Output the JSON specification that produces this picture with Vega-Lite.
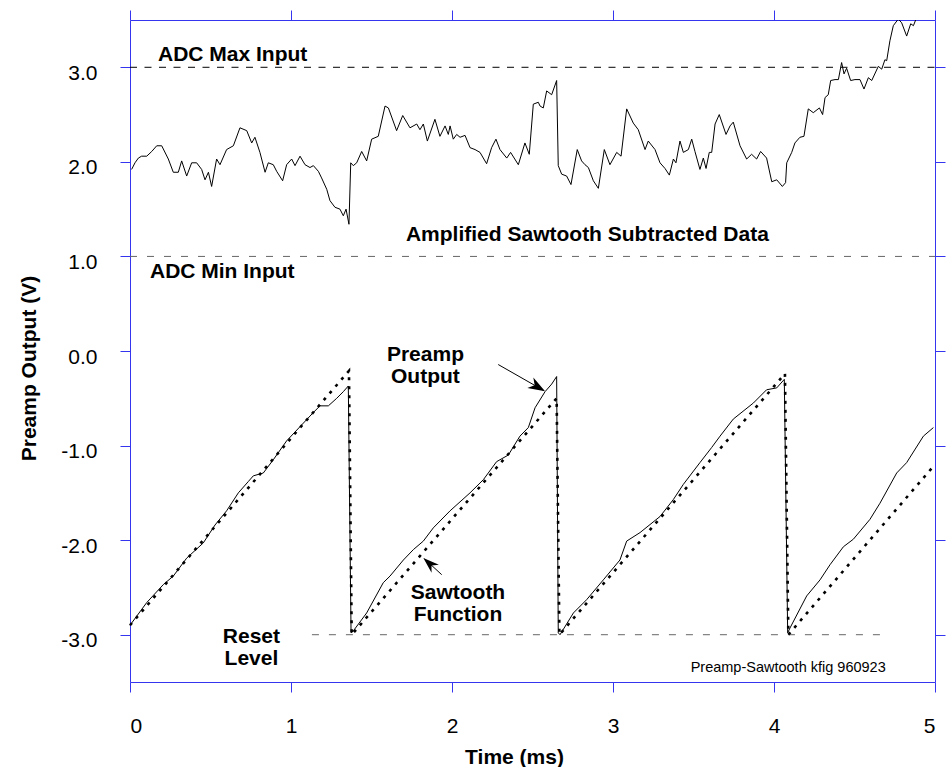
{
  "$schema": "https://vega.github.io/schema/vega-lite/v6.json",
  "width": 805,
  "height": 662,
  "autosize": {"type": "none"},
  "padding": {"left": 130, "top": 20, "right": 11, "bottom": 85},
  "background": "white",
  "config": {
    "view": {"stroke": null},
    "axis": {
      "grid": false,
      "domainColor": "#3535f0",
      "tickColor": "#3535f0",
      "domainWidth": 1,
      "tickWidth": 1,
      "tickSize": 10,
      "labelFont": "Liberation Sans",
      "labelFontSize": 21,
      "labelColor": "#000000",
      "titleFont": "Liberation Sans",
      "titleFontSize": 21,
      "titleFontWeight": "bold",
      "titleColor": "#000000"
    }
  },
  "datasets": {
    "upper": [
      {"t":0.010,"v":1.92},{"t":0.031,"v":1.99},{"t":0.052,"v":2.04},{"t":0.072,"v":2.06},{"t":0.104,"v":2.06},
      {"t":0.135,"v":2.11},{"t":0.166,"v":2.17},{"t":0.197,"v":2.17},{"t":0.238,"v":2.03},{"t":0.269,"v":1.89},
      {"t":0.300,"v":1.89},{"t":0.321,"v":2.01},{"t":0.352,"v":1.85},{"t":0.383,"v":1.99},{"t":0.414,"v":1.99},
      {"t":0.445,"v":1.92},{"t":0.466,"v":1.81},{"t":0.487,"v":1.89},{"t":0.507,"v":1.74},{"t":0.538,"v":2.03},
      {"t":0.559,"v":1.97},{"t":0.600,"v":2.13},{"t":0.642,"v":2.17},{"t":0.683,"v":2.36},{"t":0.725,"v":2.33},
      {"t":0.756,"v":2.20},{"t":0.776,"v":2.26},{"t":0.807,"v":2.10},{"t":0.839,"v":1.89},{"t":0.859,"v":1.99},
      {"t":0.890,"v":1.97},{"t":0.911,"v":1.90},{"t":0.948,"v":1.80},{"t":0.973,"v":1.97},{"t":1.004,"v":2.03},
      {"t":1.025,"v":1.96},{"t":1.056,"v":2.06},{"t":1.087,"v":1.97},{"t":1.118,"v":1.94},{"t":1.139,"v":1.96},
      {"t":1.170,"v":1.90},{"t":1.190,"v":1.83},{"t":1.222,"v":1.71},{"t":1.242,"v":1.59},{"t":1.273,"v":1.52},
      {"t":1.304,"v":1.50},{"t":1.325,"v":1.43},{"t":1.342,"v":1.50},{"t":1.360,"v":1.34},{"t":1.371,"v":1.99},
      {"t":1.387,"v":1.96},{"t":1.408,"v":1.99},{"t":1.439,"v":2.11},{"t":1.470,"v":2.01},{"t":1.501,"v":2.24},
      {"t":1.542,"v":2.27},{"t":1.584,"v":2.59},{"t":1.605,"v":2.57},{"t":1.656,"v":2.33},{"t":1.694,"v":2.49},
      {"t":1.739,"v":2.36},{"t":1.781,"v":2.40},{"t":1.801,"v":2.34},{"t":1.822,"v":2.40},{"t":1.847,"v":2.22},
      {"t":1.894,"v":2.45},{"t":1.925,"v":2.27},{"t":1.957,"v":2.38},{"t":1.977,"v":2.29},{"t":1.988,"v":2.38},
      {"t":2.008,"v":2.24},{"t":2.029,"v":2.29},{"t":2.050,"v":2.26},{"t":2.081,"v":2.28},{"t":2.112,"v":2.15},
      {"t":2.143,"v":2.13},{"t":2.174,"v":2.10},{"t":2.215,"v":1.98},{"t":2.246,"v":2.15},{"t":2.273,"v":2.24},
      {"t":2.298,"v":2.13},{"t":2.340,"v":2.04},{"t":2.364,"v":2.10},{"t":2.412,"v":1.97},{"t":2.453,"v":2.20},
      {"t":2.480,"v":2.08},{"t":2.505,"v":2.61},{"t":2.536,"v":2.63},{"t":2.547,"v":2.59},{"t":2.567,"v":2.57},
      {"t":2.588,"v":2.75},{"t":2.619,"v":2.71},{"t":2.650,"v":2.86},{"t":2.660,"v":1.96},{"t":2.681,"v":1.87},
      {"t":2.712,"v":1.85},{"t":2.739,"v":1.76},{"t":2.778,"v":2.13},{"t":2.805,"v":2.01},{"t":2.826,"v":1.97},
      {"t":2.847,"v":1.94},{"t":2.878,"v":1.80},{"t":2.909,"v":1.72},{"t":2.946,"v":2.13},{"t":2.981,"v":1.97},
      {"t":3.023,"v":2.10},{"t":3.050,"v":2.06},{"t":3.085,"v":2.56},{"t":3.126,"v":2.41},{"t":3.157,"v":2.34},
      {"t":3.199,"v":2.13},{"t":3.219,"v":2.22},{"t":3.261,"v":2.13},{"t":3.292,"v":1.99},{"t":3.323,"v":1.93},
      {"t":3.350,"v":1.86},{"t":3.375,"v":2.03},{"t":3.391,"v":1.99},{"t":3.416,"v":2.22},{"t":3.437,"v":2.10},
      {"t":3.468,"v":2.13},{"t":3.489,"v":2.24},{"t":3.509,"v":2.11},{"t":3.540,"v":1.92},{"t":3.561,"v":2.04},
      {"t":3.578,"v":1.93},{"t":3.598,"v":2.10},{"t":3.613,"v":2.10},{"t":3.634,"v":2.40},{"t":3.660,"v":2.50},
      {"t":3.702,"v":2.29},{"t":3.727,"v":2.38},{"t":3.747,"v":2.42},{"t":3.789,"v":2.17},{"t":3.830,"v":2.03},
      {"t":3.861,"v":2.08},{"t":3.892,"v":2.03},{"t":3.917,"v":2.11},{"t":3.954,"v":2.04},{"t":3.986,"v":1.79},
      {"t":4.017,"v":1.81},{"t":4.052,"v":1.74},{"t":4.072,"v":1.78},{"t":4.079,"v":1.99},{"t":4.110,"v":2.10},
      {"t":4.130,"v":2.20},{"t":4.161,"v":2.26},{"t":4.186,"v":2.27},{"t":4.213,"v":2.56},{"t":4.244,"v":2.52},
      {"t":4.282,"v":2.57},{"t":4.302,"v":2.50},{"t":4.317,"v":2.68},{"t":4.337,"v":2.71},{"t":4.352,"v":2.86},
      {"t":4.379,"v":2.87},{"t":4.400,"v":2.87},{"t":4.420,"v":3.05},{"t":4.435,"v":2.93},{"t":4.451,"v":2.99},
      {"t":4.476,"v":2.86},{"t":4.503,"v":2.87},{"t":4.534,"v":2.87},{"t":4.559,"v":2.77},{"t":4.586,"v":2.89},
      {"t":4.607,"v":2.86},{"t":4.648,"v":3.01},{"t":4.669,"v":2.98},{"t":4.689,"v":3.08},{"t":4.700,"v":3.07},
      {"t":4.720,"v":3.28},{"t":4.741,"v":3.44},{"t":4.772,"v":3.51},{"t":4.793,"v":3.47},{"t":4.824,"v":3.33},
      {"t":4.849,"v":3.46},{"t":4.866,"v":3.44},{"t":4.882,"v":3.51}
    ],
    "preamp": [
      {"t":0.000,"v":-2.90},{"t":0.104,"v":-2.66},{"t":0.207,"v":-2.47},{"t":0.269,"v":-2.38},{"t":0.352,"v":-2.19},
      {"t":0.455,"v":-2.03},{"t":0.528,"v":-1.84},{"t":0.600,"v":-1.69},{"t":0.673,"v":-1.50},{"t":0.735,"v":-1.38},
      {"t":0.766,"v":-1.32},{"t":0.828,"v":-1.29},{"t":0.890,"v":-1.15},{"t":0.973,"v":-0.95},{"t":1.056,"v":-0.80},
      {"t":1.139,"v":-0.65},{"t":1.180,"v":-0.58},{"t":1.232,"v":-0.58},{"t":1.284,"v":-0.50},{"t":1.325,"v":-0.43},
      {"t":1.356,"v":-0.37},{"t":1.373,"v":-2.98},{"t":1.387,"v":-2.96},{"t":1.470,"v":-2.77},{"t":1.573,"v":-2.45},
      {"t":1.615,"v":-2.38},{"t":1.698,"v":-2.21},{"t":1.760,"v":-2.10},{"t":1.822,"v":-2.01},{"t":1.884,"v":-1.87},
      {"t":1.988,"v":-1.69},{"t":2.112,"v":-1.50},{"t":2.195,"v":-1.36},{"t":2.277,"v":-1.17},{"t":2.350,"v":-1.10},
      {"t":2.422,"v":-0.90},{"t":2.474,"v":-0.81},{"t":2.516,"v":-0.60},{"t":2.578,"v":-0.43},{"t":2.619,"v":-0.35},
      {"t":2.650,"v":-0.27},{"t":2.660,"v":-2.98},{"t":2.671,"v":-3.00},{"t":2.754,"v":-2.77},{"t":2.836,"v":-2.63},
      {"t":2.940,"v":-2.42},{"t":3.043,"v":-2.21},{"t":3.085,"v":-2.01},{"t":3.168,"v":-1.92},{"t":3.292,"v":-1.75},
      {"t":3.375,"v":-1.57},{"t":3.437,"v":-1.41},{"t":3.540,"v":-1.18},{"t":3.613,"v":-1.02},{"t":3.665,"v":-0.90},
      {"t":3.747,"v":-0.72},{"t":3.872,"v":-0.55},{"t":3.954,"v":-0.41},{"t":4.017,"v":-0.39},{"t":4.064,"v":-0.30},
      {"t":4.085,"v":-2.98},{"t":4.099,"v":-2.93},{"t":4.203,"v":-2.59},{"t":4.286,"v":-2.42},{"t":4.348,"v":-2.26},
      {"t":4.431,"v":-2.07},{"t":4.493,"v":-1.99},{"t":4.596,"v":-1.78},{"t":4.658,"v":-1.61},{"t":4.762,"v":-1.29},
      {"t":4.824,"v":-1.18},{"t":4.928,"v":-0.90},{"t":4.990,"v":-0.81}
    ],
    "saw": [
      {"t":0.000,"v":-2.90},{"t":1.360,"v":-0.21},{"t":1.377,"v":-3.00},{"t":2.650,"v":-0.50},
      {"t":2.667,"v":-3.00},{"t":4.068,"v":-0.24},{"t":4.089,"v":-3.00},{"t":5.000,"v":-1.20}
    ]
  },
  "encoding": {
    "x": {"field": "t", "type": "quantitative", "scale": {"domain": [0, 5], "nice": false, "zero": false}, "axis": null},
    "y": {"field": "v", "type": "quantitative", "scale": {"domain": [-3.5, 3.5], "nice": false, "zero": false}, "axis": null}
  },
  "layer": [
    {
      "data": {"values": [{"t": 0, "t2": 5, "v": 3}]},
      "mark": {"type": "rule", "color": "#000000", "strokeWidth": 1, "strokeDash": [7, 7.5]},
      "encoding": {
        "x": {"field": "t", "type": "quantitative", "scale": {"domain": [0, 5], "nice": false, "zero": false},
              "axis": {"orient": "top", "values": [0, 1, 2, 3, 4, 5], "labels": false, "title": null}},
        "x2": {"field": "t2"},
        "y": {"field": "v", "type": "quantitative", "scale": {"domain": [-3.5, 3.5], "nice": false, "zero": false},
              "axis": {"orient": "right", "values": [-3, -2, -1, 0, 1, 2, 3], "labels": false, "title": null}}
      }
    },
    {
      "data": {"values": [{"t": 0, "t2": 5, "v": 1}, {"t": 1.13, "t2": 4.70, "v": -3}]},
      "mark": {"type": "rule", "color": "#666666", "strokeWidth": 1, "strokeDash": [7, 10]},
      "encoding": {"x2": {"field": "t2"}}
    },
    {
      "data": {"name": "upper"},
      "mark": {"type": "line", "color": "#000000", "strokeWidth": 1, "clip": true},
      "encoding": {
        "x": {"field": "t", "type": "quantitative", "scale": {"domain": [0, 5], "nice": false, "zero": false},
              "axis": {"orient": "bottom", "values": [0, 1, 2, 3, 4, 5], "format": "d", "labelPadding": 23,
                       "title": "Time (ms)", "titleX": 384, "titleY": 81, "titleBaseline": "alphabetic", "titleAlign": "center"}},
        "y": {"field": "v", "type": "quantitative", "scale": {"domain": [-3.5, 3.5], "nice": false, "zero": false},
              "axis": {"orient": "left", "values": [-3, -2, -1, 0, 1, 2, 3],
                       "labelExpr": "datum.value < 0 ? '-' + format(-datum.value, '.1f') : format(datum.value, '.1f')",
                       "labelPadding": 23, "labelOffset": 6,
                       "title": "Preamp Output (V)", "titleX": -95, "titleY": 348, "titleAngle": -90,
                       "titleBaseline": "alphabetic", "titleAlign": "center"}}
      }
    },
    {
      "data": {"name": "preamp"},
      "mark": {"type": "line", "color": "#000000", "strokeWidth": 1},
      "encoding": {}
    },
    {
      "data": {"name": "saw"},
      "mark": {"type": "line", "color": "#000000", "strokeWidth": 2.6, "strokeDash": [3, 6], "strokeCap": "butt"},
      "encoding": {}
    },
    {
      "data": {"values": [
        {"t": 2.287, "v": -0.143, "t2": 2.570, "v2": -0.418},
        {"t": 1.936, "v": -2.365, "t2": 1.830, "v2": -2.199}
      ]},
      "mark": {"type": "rule", "color": "#000000", "strokeWidth": 1},
      "encoding": {"x2": {"field": "t2"}, "y2": {"field": "v2"}}
    },
    {
      "data": {"values": [{"t": 2.578, "v": -0.425}]},
      "mark": {"type": "point", "shape": "M0,0L6,17L0,12L-6,17Z", "size": 4, "filled": true, "color": "#000000", "opacity": 1, "angle": 120, "strokeWidth": 0},
      "encoding": {}
    },
    {
      "data": {"values": [{"t": 1.822, "v": -2.189}]},
      "mark": {"type": "point", "shape": "M0,0L5.5,16L0,11L-5.5,16Z", "size": 4, "filled": true, "color": "#000000", "opacity": 1, "angle": 312, "strokeWidth": 0},
      "encoding": {}
    },
    {
      "data": {"values": [
        {"t": 0.174, "v": 3.067, "label": "ADC Max Input"},
        {"t": 0.124, "v": 0.775, "label": "ADC Min Input"},
        {"t": 1.714, "v": 1.162, "label": "Amplified Sawtooth Subtracted Data"}
      ]},
      "mark": {"type": "text", "align": "left", "baseline": "alphabetic", "font": "Liberation Sans", "fontWeight": "bold", "fontSize": 21, "color": "#000000"},
      "encoding": {"text": {"field": "label"}}
    },
    {
      "data": {"values": [
        {"t": 1.835, "v": -0.108, "label": "Preamp"},
        {"t": 1.835, "v": -0.337, "label": "Output"},
        {"t": 2.037, "v": -2.623, "label": "Sawtooth"},
        {"t": 2.037, "v": -2.852, "label": "Function"},
        {"t": 0.754, "v": -3.088, "label": "Reset"},
        {"t": 0.754, "v": -3.317, "label": "Level"}
      ]},
      "mark": {"type": "text", "align": "center", "baseline": "alphabetic", "font": "Liberation Sans", "fontWeight": "bold", "fontSize": 21, "color": "#000000"},
      "encoding": {"text": {"field": "label"}}
    },
    {
      "data": {"values": [{"t": 4.694, "v": -3.395, "label": "Preamp-Sawtooth kfig 960923"}]},
      "mark": {"type": "text", "align": "right", "baseline": "alphabetic", "font": "Liberation Sans", "fontSize": 14.5, "color": "#000000"},
      "encoding": {"text": {"field": "label"}}
    }
  ],
  "resolve": {"axis": {"x": "independent", "y": "independent"}}
}
